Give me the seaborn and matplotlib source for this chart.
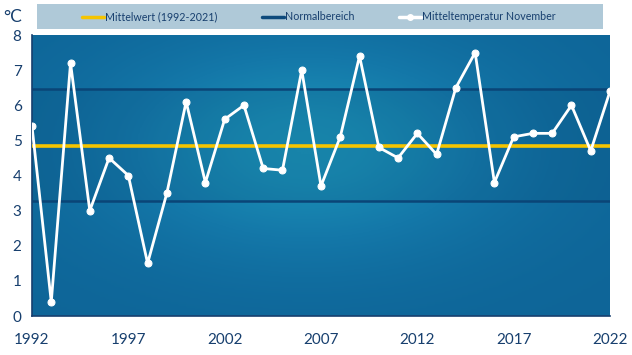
import numpy as np
import pandas as pd
import seaborn as sns
import matplotlib.pyplot as plt
from matplotlib.colors import LinearSegmentedColormap
from matplotlib.lines import Line2D
from matplotlib.patches import Rectangle

years = list(range(1992, 2023))
temps = [5.4, 0.4, 7.2, 3.0, 4.5, 4.0, 1.5, 3.5, 6.1, 3.8, 5.6, 6.0, 4.2, 4.15, 7.0,
         3.7, 5.1, 7.4, 4.8, 4.5, 5.2, 4.6, 6.5, 7.5, 3.8, 5.1, 5.2, 5.2, 6.0, 4.7, 6.4]
mean_value = 4.85
normal_low = 3.26
normal_high = 6.46
legend_labels = ['Mittelwert (1992-2021)', 'Normalbereich', 'Mitteltemperatur November']
xtick_years = [1992, 1997, 2002, 2007, 2012, 2017, 2022]

navy = '#173f6e'
sns.set_theme(style='white')
plt.rcParams['font.family'] = ['Lato', 'DejaVu Sans']

df = pd.DataFrame({'year': years, 'temp': temps})

fig = plt.figure(figsize=(6.32, 3.55), dpi=100)
fig.patch.set_facecolor('white')
ax = fig.add_axes([32 / 632, 39 / 355, 578 / 632, 281 / 355])

# blue background with soft light centre
cmap = LinearSegmentedColormap.from_list('bg', ['#0e6598', '#1478a9', '#1b90b6'])
gx, gy = np.meshgrid(np.linspace(-1, 1, 300), np.linspace(-1, 1, 160))
glow = np.exp(-((gx + 0.05) ** 2 / 0.5 + (gy + 0.2) ** 2 / 0.6))
ax.imshow(glow, cmap=cmap, extent=[0, 1, 0, 1], transform=ax.transAxes,
          aspect='auto', zorder=0, vmin=0, vmax=1)

ax.axhspan(normal_low, normal_high, color='#05325a', alpha=0.12, lw=0, zorder=1)
ax.axhline(normal_high, color='#0a4577', lw=1.8, zorder=2)
ax.axhline(normal_low, color='#0a4577', lw=1.8, zorder=2)
ax.axhline(mean_value, color='#f5c400', lw=2.6, zorder=3)

sns.lineplot(data=df, x='year', y='temp', ax=ax, color='white', lw=2,
             marker='o', markersize=5, markeredgecolor='white', zorder=4)

ax.set_xlim(1992, 2022)
ax.set_ylim(0, 8)
ax.set_xticks(xtick_years)
ax.set_xticks(years, minor=True)
ax.set_yticks(range(0, 9))
ax.set_xlabel('')
ax.set_ylabel('')
ax.tick_params(axis='both', which='both', direction='out', colors=navy,
               labelsize=11, length=4, width=1)
ax.tick_params(axis='x', pad=8)
for side in ['top', 'right']:
    ax.spines[side].set_visible(False)
for side in ['left', 'bottom']:
    ax.spines[side].set_color(navy)
    ax.spines[side].set_linewidth(1.2)

fig.text(3 / 632, 1 - 17 / 355, '°C', color=navy, fontsize=12.5, va='center')

# legend band
fig.patches.append(Rectangle((37 / 632, 1 - 29 / 355), 566 / 632, 25 / 355,
                             transform=fig.transFigure, facecolor='#afc9d8',
                             edgecolor='none', zorder=0))
handles = [Line2D([], [], color='#f5c400', lw=2.5),
           Line2D([], [], color='#0d4a7c', lw=2.5),
           Line2D([], [], color='white', lw=2.5, marker='o', markersize=4)]
fig.legend(handles, legend_labels, loc='center left', ncol=3,
           bbox_to_anchor=(75 / 632, 1 - 17 / 355), frameon=False,
           handlelength=2.0, handletextpad=0.1, columnspacing=4.2,
           fontsize=7.7, labelcolor=navy, borderpad=0.2)

fig.savefig('out.png', dpi=100)
